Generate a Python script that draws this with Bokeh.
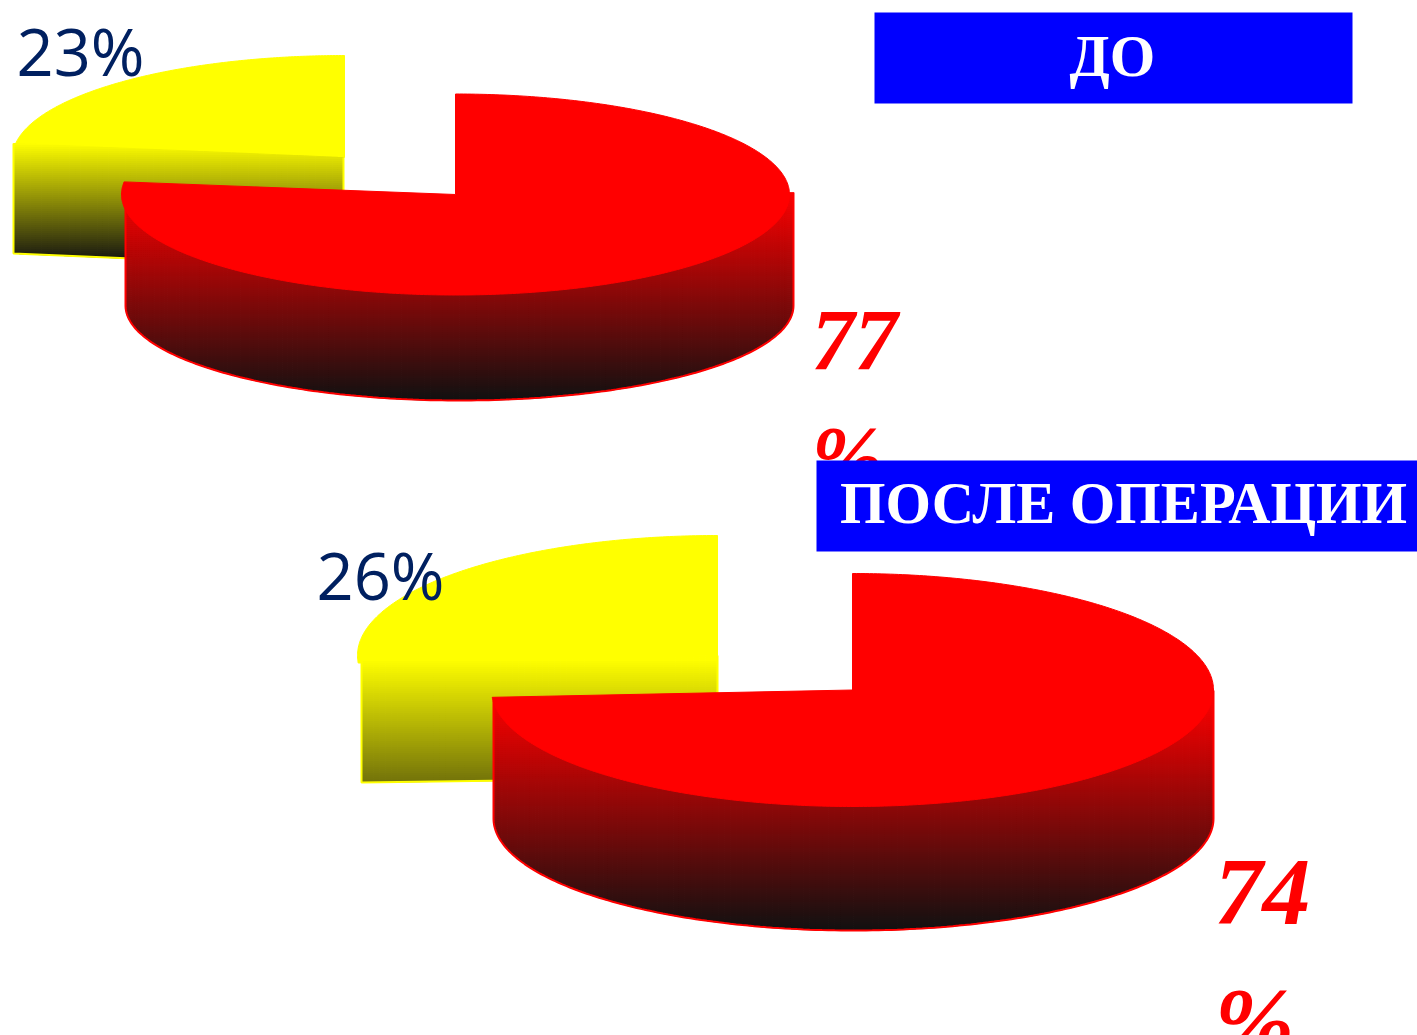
import numpy as np
from bokeh.core.properties import value
from bokeh.embed import file_html
from bokeh.models import Range1d
from bokeh.plotting import figure
from bokeh.resources import INLINE

# Chart data
titles = ["ДО", "ПОСЛЕ ОПЕРАЦИИ"]
main_share = [77, 74]
minor_share = [23, 26]

RED = (255, 0, 0)
YELLOW = (255, 255, 0)
DARK = (17, 17, 17)
NAVY = "#002060"
BLUE = "#0000FF"

p = figure(width=1417, height=1035, output_backend="svg", toolbar_location=None,
           x_range=Range1d(0, 1417), y_range=Range1d(1035, 0),
           x_axis_type=None, y_axis_type=None, min_border=0,
           outline_line_color=None, background_fill_color="white",
           border_fill_color="white")
p.grid.visible = False


def sector(cx, cy, rx, ry, start_pct, end_pct, n=160):
    """Top face of a pie sector; percentages run clockwise from 12 o'clock."""
    a = np.radians(np.linspace(start_pct, end_pct, n) * 3.6)
    return (np.r_[cx, cx + rx * np.sin(a)], np.r_[cy, cy - ry * np.cos(a)])


def shaded_wall(x, top, bottom, base, y_start, y_end, step=2.0):
    """Side wall filled with a vertical gradient made of thin horizontal bands."""
    xs, ys, colors = [], [], []
    c0, c1 = np.array(base, float), np.array(DARK, float)
    for y0 in np.arange(top.min(), bottom.max(), step):
        y1 = y0 + step
        upper = np.maximum(top, y0)
        lower = np.minimum(bottom, y1)
        keep = lower > upper
        if keep.sum() < 2:
            continue
        xs.append(np.r_[x[keep], x[keep][::-1]])
        ys.append(np.r_[upper[keep], lower[keep][::-1]])
        t = np.clip((y0 + step / 2 - y_start) / (y_end - y_start), 0, 1)
        r, g, b = (c0 + (c1 - c0) * t).astype(int)
        colors.append(f"#{r:02x}{g:02x}{b:02x}")
    p.patches(xs, ys, fill_color=colors, line_color=colors, line_width=1)


def draw_pie(main, minor, red, yellow):
    # Detached smaller sector: flat cut face under a chord
    cx, cy, rx, ry = yellow["face"]
    fx, fy = sector(cx, cy, rx, ry, main, main + minor)
    p.patch(fx, fy, fill_color="#FFFF00", line_color="#FFFF00", line_width=1)
    x0, x1 = yellow["wall_x"]
    y_left, y_right = yellow["chord"]
    x = np.linspace(x0, x1, 60)
    top = y_left + (y_right - y_left) * (x - x0) / (x1 - x0)
    bottom = top + yellow["depth"]
    shaded_wall(x, top, bottom, YELLOW, y_left, yellow["dark_at"])
    p.line(np.r_[x0, x0, x1, x1], np.r_[y_left, y_left + yellow["depth"],
                                        y_right + yellow["depth"], y_right],
           line_color="#FFFF00", line_width=2)

    # Larger sector: curved wall below the top face
    wx, wrx = red["wall_cx"], red["wall_rx"]
    corner, wry = red["corner_y"], red["wall_ry"]
    x = wx + wrx * np.sin(np.radians(np.linspace(-90, 90, 181)))
    arc = corner + wry * np.sqrt(np.clip(1 - ((x - wx) / wrx) ** 2, 0, 1))
    # The wall starts lower on the left, where it sits under the cut edge
    top = np.where(x < wx, red["wall_top_left"], red["wall_top"]).astype(float)
    shaded_wall(x, top, arc, RED, red["shade_from"], red["dark_at"])
    p.line(np.r_[x[0], x, x[-1]], np.r_[red["wall_top_left"], arc, red["wall_top"]],
           line_color="#FF0000", line_width=2)
    cx, cy, rx, ry = red["face"]
    fx, fy = sector(cx, cy, rx, ry, 0, main, n=400)
    p.patch(fx, fy, fill_color="#FF0000", line_color="#FF0000", line_width=1)


draw_pie(main_share[0], minor_share[0],
         red=dict(face=(455, 194, 334, 100.5), wall_cx=459, wall_rx=334, corner_y=305,
                  wall_ry=95, wall_top=192, wall_top_left=200, shade_from=190, dark_at=400),
         yellow=dict(face=(344, 157, 332, 102), wall_x=(13, 343), chord=(143, 157),
                     depth=110, dark_at=262))
draw_pie(main_share[1], minor_share[1],
         red=dict(face=(852, 689.5, 361, 116.5), wall_cx=853, wall_rx=360, corner_y=818,
                  wall_ry=112, wall_top=690, wall_top_left=700, shade_from=695, dark_at=930),
         yellow=dict(face=(717, 655, 360, 120), wall_x=(361, 717), chord=(660, 655),
                     depth=122, dark_at=867))

# Percentage labels
serif = value("Liberation Serif")
p.text([811], [398], text=[f"{main_share[0]}\n%"], text_font=serif, text_font_size="86px",
       text_font_style="bold italic", text_color="#FF0000", text_line_height=1.21,
       text_baseline="alphabetic")
p.text([1214], [956], text=[f"{main_share[1]}\n%"], text_font=serif, text_font_size="96px",
       text_font_style="bold italic", text_color="#FF0000", text_line_height=1.21,
       text_baseline="alphabetic")
sans = value("Open Sans")
p.text([16], [50], text=[f"{minor_share[0]}%"], text_font=sans, text_font_size="65px",
       text_color=NAVY, text_baseline="alphabetic")
p.text([316], [574], text=[f"{minor_share[1]}%"], text_font=sans, text_font_size="65px",
       text_color=NAVY, text_baseline="alphabetic")

# Title plates
p.quad(left=[874, 816], right=[1352, 1417], top=[12, 460], bottom=[103, 551],
       fill_color=BLUE, line_color=None)
p.text([1112, 1123], [56, 503], text=titles, text_font=serif, text_font_size="58.5px",
       text_font_style="bold", text_color="#FFFFFF", text_align="center",
       text_baseline="alphabetic")

open("out.html", "w").write(file_html(p, INLINE))
